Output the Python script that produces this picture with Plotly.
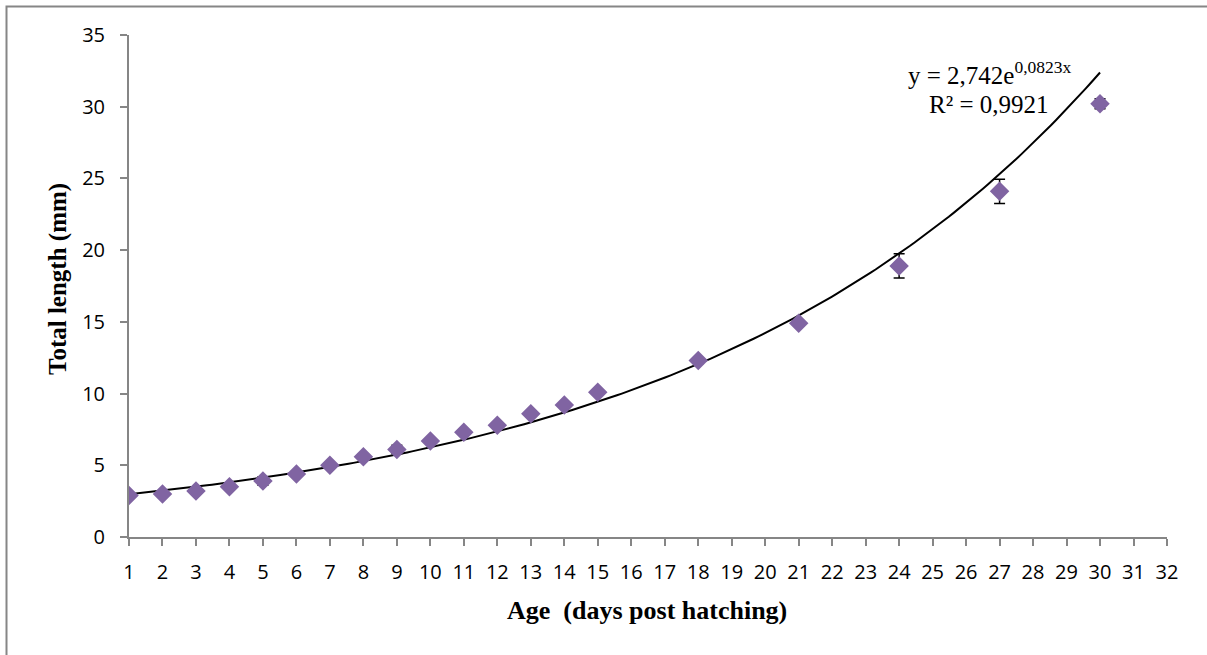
import numpy as np
import plotly.graph_objects as go

age_days = [1, 2, 3, 4, 5, 6, 7, 8, 9, 10, 11, 12, 13, 14, 15, 18, 21, 24, 27, 30]
total_length = [2.9, 3.0, 3.2, 3.5, 3.9, 4.4, 5.0, 5.6, 6.1, 6.7, 7.3, 7.8, 8.6, 9.2, 10.1, 12.3, 14.9, 18.9, 24.1, 30.2]
length_sd = [0.15, 0.15, 0.15, 0.15, 0.3, 0.2, 0.15, 0.2, 0.3, 0.15, 0.15, 0.15, 0.2, 0.15, 0.15, 0.2, 0.2, 0.85, 0.85, 0.35]
trend_a = 2.742
trend_b = 0.0823
x_ticks = list(range(1, 33))
y_ticks = [0, 5, 10, 15, 20, 25, 30, 35]

# plot area geometry (pixels)
W, H = 1207, 655
L, R, T, B = 129, 1167, 35, 537
pw, ph = R - L, B - T

def px(xp):
    return (xp - L) / pw

def py(yp):
    return (B - yp) / ph

fig = go.Figure()

tx = np.linspace(age_days[0], age_days[-1], 200)
fig.add_trace(go.Scatter(
    x=tx, y=trend_a * np.exp(trend_b * tx), mode="lines",
    line=dict(color="black", width=2), hoverinfo="skip", showlegend=False))

fig.add_trace(go.Scatter(
    x=age_days, y=total_length, mode="markers",
    marker=dict(symbol="diamond", size=15, color="#8064A2"),
    error_y=dict(type="data", array=length_sd, visible=True, color="black", thickness=1.5, width=5.5),
    showlegend=False))

axis_common = dict(showgrid=False, zeroline=False, showline=True, linecolor="#868686", linewidth=2,
                   ticks="outside", ticklen=7, tickwidth=1.5, tickcolor="#868686",
                   tickfont=dict(family="Open Sans", size=20, color="black"))

fig.update_xaxes(range=[1, 32], tickmode="array", tickvals=x_ticks, ticktext=[str(v) for v in x_ticks],
                 ticklabelstandoff=9, **axis_common)
fig.update_yaxes(range=[0, 35], tickmode="array", tickvals=y_ticks, ticktext=[str(v) for v in y_ticks],
                 ticklabelstandoff=11, **axis_common)

serif = "Liberation Serif, Times New Roman, serif"
fig.add_annotation(xref="paper", yref="paper", x=px(647), y=py(610), text="<b>Age  (days post hatching)</b>",
                   showarrow=False, font=dict(family=serif, size=26, color="black"), xanchor="center", yanchor="middle")
fig.add_annotation(xref="paper", yref="paper", x=px(58), y=py(279), text="<b>Total length (mm)</b>", textangle=-90,
                   showarrow=False, font=dict(family=serif, size=25, color="black"), xanchor="center", yanchor="middle")
fig.add_annotation(xref="paper", yref="paper", x=px(990), y=py(73),
                   text="y = 2,742e<sup>0,0823x</sup>",
                   showarrow=False, font=dict(family=serif, size=25, color="black"), xanchor="center", yanchor="middle")
fig.add_annotation(xref="paper", yref="paper", x=px(989), y=py(104),
                   text="R² = 0,9921",
                   showarrow=False, font=dict(family=serif, size=25, color="black"), xanchor="center", yanchor="middle")

fig.add_shape(type="rect", xref="paper", yref="paper", x0=px(6.5), x1=px(1300), y0=py(800), y1=py(6.5),
              line=dict(color="#868686", width=2), fillcolor="rgba(0,0,0,0)", layer="below")

fig.update_layout(width=W, height=H, margin=dict(l=L, r=W - R, t=T, b=H - B),
                  plot_bgcolor="white", paper_bgcolor="white")

fig.write_html("out.html", config={"displayModeBar": False},
               post_script="document.body.style.margin='0px';")
